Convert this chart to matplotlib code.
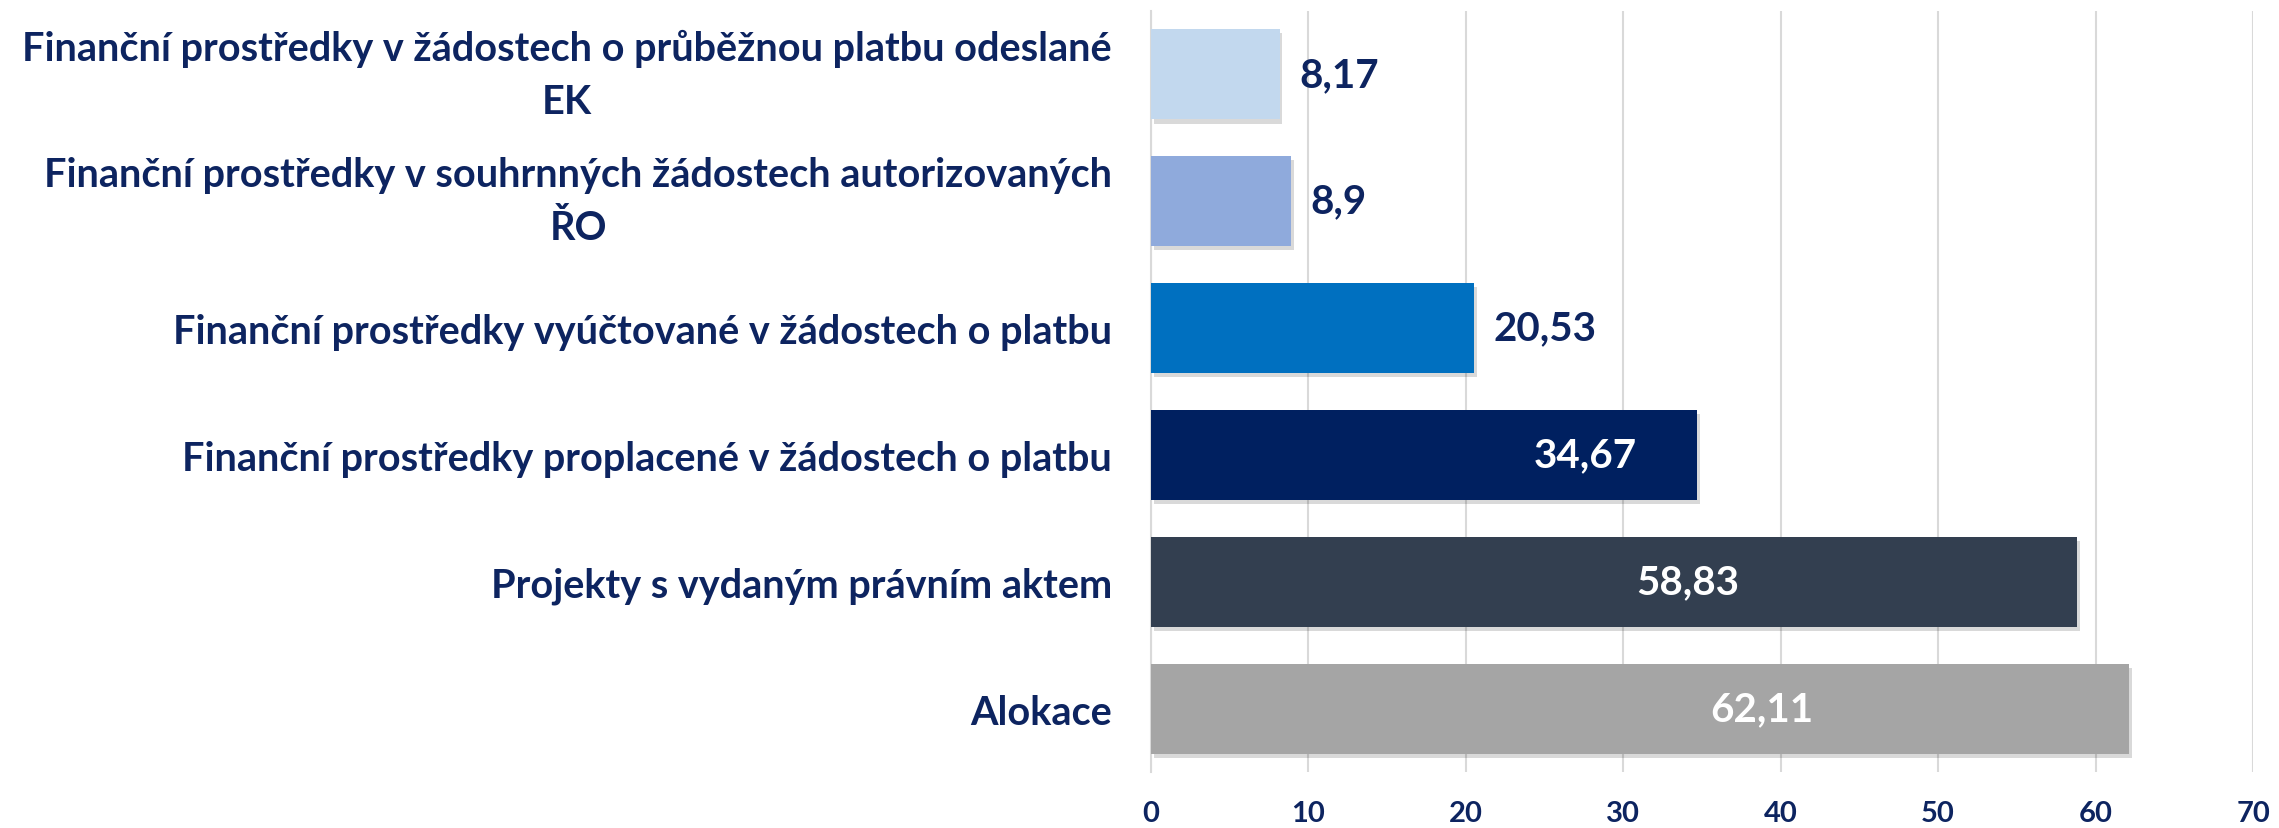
import matplotlib
matplotlib.use("Agg")
import matplotlib.pyplot as plt
import matplotlib.patheffects as pe

# data, bottom to top
categories = ["Alokace",
              "Projekty s vydaným právním aktem",
              "Finanční prostředky proplacené v žádostech o platbu",
              "Finanční prostředky vyúčtované v žádostech o platbu",
              "Finanční prostředky v souhrnných žádostech autorizovaných\nŘO",
              "Finanční prostředky v žádostech o průběžnou platbu odeslané\nEK"]
values = [62.11, 58.83, 34.67, 20.53, 8.9, 8.17]
value_labels = ["62,11", "58,83", "34,67", "20,53", "8,9", "8,17"]

colors = ["#A5A5A5", "#333F50", "#002060", "#0070C0", "#8FAADC", "#C2D8EE"]
navy = "#0D2460"
# where the inside labels sit, as a share of the bar length (None = outside)
inside_pos = [0.625, 0.58, 0.795, None, None, None]

plt.rcParams['font.family'] = ['Lato', 'DejaVu Sans']

fig = plt.figure(figsize=(22.79, 8.29), dpi=100)
ax = fig.add_axes([0.505, 0.0676, 0.4836, 0.918])

ypos = list(range(len(values)))
bars = ax.barh(ypos, values, height=0.71, color=colors, zorder=3)
for b in bars:
    b.set_path_effects([pe.SimplePatchShadow(offset=(2, -3), shadow_rgbFace="#000000", alpha=0.15),
                        pe.Normal()])

for i, (v, lab) in enumerate(zip(values, value_labels)):
    if inside_pos[i] is None:
        ax.annotate(lab, (v, i), xytext=(14, 0), textcoords="offset points",
                    va="center", ha="left", fontsize=29, fontweight="bold", color=navy)
    else:
        ax.text(v * inside_pos[i], i, lab, va="center", ha="center",
                fontsize=29, fontweight="bold", color="white", zorder=4)

ax.set_xlim(0, 70)
ax.set_ylim(-0.5, 5.5)
ax.set_xticks(range(0, 71, 10))
ax.set_yticks(ypos)
ax.set_yticklabels(categories, multialignment="center", linespacing=1.55)
ax.tick_params(axis="y", length=0, pad=28, labelsize=28.5, labelcolor=navy)
ax.tick_params(axis="x", length=0, pad=20, labelsize=21, labelcolor=navy)
for t in ax.get_xticklabels() + ax.get_yticklabels():
    t.set_fontweight("bold")
for t in ax.get_yticklabels():
    if "\n" in t.get_text():
        t.set_verticalalignment("center")

ax.grid(axis="x", color="#D9D9D9", linewidth=1.5, zorder=0)
for s in ["top", "right", "bottom"]:
    ax.spines[s].set_visible(False)
ax.spines["left"].set_color("#D9D9D9")
ax.spines["left"].set_linewidth(1.5)

fig.savefig("out.png", dpi=100)
